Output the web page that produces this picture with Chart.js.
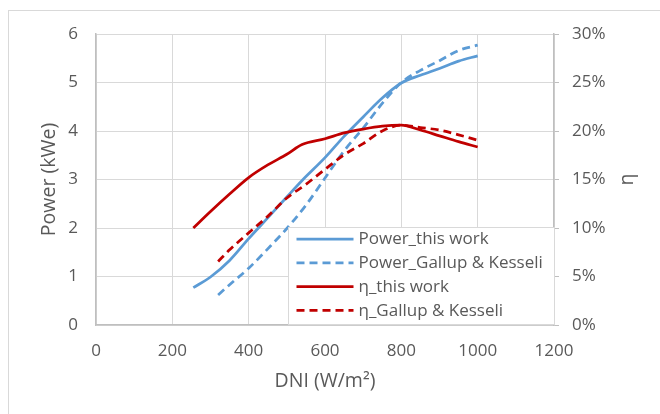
<!DOCTYPE html>
<html>
<head>
<meta charset="utf-8">
<script src="https://cdn.jsdelivr.net/npm/chart.js@4.4.0/dist/chart.umd.min.js"></script>
<style>
  html, body { margin: 0; padding: 0; background: #ffffff; }
  #wrap { width: 660px; height: 414px; position: relative; }
</style>
</head>
<body>
<div id="wrap"><canvas id="c" width="660" height="414"></canvas></div>
<script>
// ---- data ----
const xTicks = [0, 200, 400, 600, 800, 1000, 1200];
const powerTicks = [0, 1, 2, 3, 4, 5, 6];
const etaTicks = [0, 5, 10, 15, 20, 25, 30];

const seriesNames = ["Power_this work", "Power_Gallup & Kesseli", "η_this work", "η_Gallup & Kesseli"];
const xTitle = "DNI (W/m²)";
const yTitle = "Power (kWe)";
const y2Title = "η";

const dniThisWork = [255, 300, 350, 400, 450, 500, 540, 600, 650, 700, 750, 800, 850, 900, 950, 1000];
const powerThisWork = [0.77, 0.99, 1.33, 1.78, 2.21, 2.64, 2.98, 3.45, 3.89, 4.29, 4.68, 4.99, 5.15, 5.29, 5.44, 5.55];
const etaThisWork = [10.0, 11.7, 13.5, 15.2, 16.5, 17.6, 18.6, 19.2, 19.8, 20.2, 20.5, 20.6, 20.1, 19.5, 18.9, 18.35];

const dniGallup = [320, 350, 400, 450, 500, 550, 600, 650, 700, 750, 800, 850, 900, 950, 1000];
const powerGallup = [0.62, 0.83, 1.17, 1.57, 1.99, 2.47, 3.03, 3.59, 4.06, 4.57, 5.00, 5.25, 5.45, 5.66, 5.77];
const etaGallup = [6.55, 7.75, 9.5, 11.2, 13.1, 14.5, 16.05, 17.55, 18.7, 20.0, 20.6, 20.35, 20.1, 19.6, 19.05];

// ---- helpers ----
const pts = (xs, ys) => xs.map((x, i) => ({ x: x, y: ys[i] }));
const BLUE = "#5B9BD5";
const RED = "#C00000";
const TXT = "#595959";
const GRID = "#d9d9d9";
const AXIS = "#bfbfbf";
const FONT = "'Open Sans', sans-serif";

const outerBorder = {
  id: "outerBorder",
  beforeDraw(chart) {
    const ctx = chart.ctx;
    ctx.save();
    ctx.fillStyle = "#ffffff";
    ctx.fillRect(0, 0, chart.width, chart.height);
    ctx.strokeStyle = GRID;
    ctx.lineWidth = 1;
    ctx.strokeRect(8.5, 10.5, 720, 520);
    ctx.restore();
  }
};

// right-axis title, drawn reading bottom-to-top like the reference
const rightTitle = {
  id: "rightTitle",
  afterDraw(chart) {
    const ctx = chart.ctx;
    const ca = chart.chartArea;
    ctx.save();
    ctx.translate(chart.scales.y2.right - 33, (ca.top + ca.bottom) / 2);
    ctx.rotate(-Math.PI / 2);
    ctx.fillStyle = TXT;
    ctx.font = "19.5px " + FONT;
    ctx.textAlign = "center";
    ctx.textBaseline = "middle";
    ctx.fillText(y2Title, 0, 0);
    ctx.restore();
  }
};

const boxLegend = {
  id: "boxLegend",
  afterDatasetsDraw(chart) {
    const ctx = chart.ctx;
    const ca = chart.chartArea;
    const w = 266, h = 97;
    const x0 = Math.round(ca.right - w) + 0.5;
    const y0 = Math.round(ca.bottom - h) - 0.5;
    ctx.save();
    ctx.fillStyle = "#ffffff";
    ctx.fillRect(x0, y0, w, h);
    ctx.strokeStyle = GRID;
    ctx.lineWidth = 1;
    ctx.strokeRect(x0, y0, w, h);
    chart.data.datasets.forEach((ds, i) => {
      const y = y0 + 11.5 + i * 23.8;
      ctx.beginPath();
      ctx.strokeStyle = ds.borderColor;
      ctx.lineWidth = ds.borderWidth;
      ctx.setLineDash(ds.borderDash || []);
      ctx.moveTo(x0 + 8, y);
      ctx.lineTo(x0 + 65, y);
      ctx.stroke();
      ctx.setLineDash([]);
      ctx.fillStyle = TXT;
      ctx.font = "17px " + FONT;
      ctx.textBaseline = "middle";
      ctx.textAlign = "left";
      ctx.fillText(ds.label, x0 + 70, y + 0.5);
    });
    ctx.restore();
  }
};

const tickFont = { family: FONT, size: 17 };
const titleFont = { family: FONT, size: 19.5 };

new Chart(document.getElementById("c"), {
  type: "line",
  data: {
    datasets: [
      { label: seriesNames[0], data: pts(dniThisWork, powerThisWork), yAxisID: "y", borderColor: BLUE, borderWidth: 2.75, order: 4 },
      { label: seriesNames[1], data: pts(dniGallup, powerGallup), yAxisID: "y", borderColor: BLUE, borderWidth: 2.75, borderDash: [8, 5], order: 3 },
      { label: seriesNames[2], data: pts(dniThisWork, etaThisWork), yAxisID: "y2", borderColor: RED, borderWidth: 2.75, order: 2 },
      { label: seriesNames[3], data: pts(dniGallup, etaGallup), yAxisID: "y2", borderColor: RED, borderWidth: 2.75, borderDash: [8, 5], order: 1 }
    ]
  },
  options: {
    responsive: false,
    animation: false,
    devicePixelRatio: 1,
    layout: { padding: { left: 0, right: 0, top: 34, bottom: 0 } },
    elements: {
      point: { radius: 0 },
      line: { cubicInterpolationMode: "monotone", borderCapStyle: "butt", fill: false }
    },
    plugins: {
      legend: { display: false },
      tooltip: { enabled: false }
    },
    scales: {
      x: {
        type: "linear",
        min: xTicks[0], max: xTicks[xTicks.length - 1],
        afterBuildTicks: s => { s.ticks = xTicks.map(v => ({ value: v })); },
        afterFit: s => { s.height = 89; },
        grid: { color: GRID, lineWidth: 1, drawTicks: false },
        border: { color: AXIS, width: 1.5 },
        ticks: { color: TXT, font: tickFont, padding: 16, maxRotation: 0, callback: v => String(v) },
        title: { display: true, text: xTitle, color: TXT, font: titleFont, padding: { top: 0, bottom: 21 } }
      },
      y: {
        position: "left",
        min: powerTicks[0], max: powerTicks[powerTicks.length - 1],
        afterBuildTicks: s => { s.ticks = powerTicks.map(v => ({ value: v })); },
        afterFit: s => { s.width = 96; },
        grid: { color: GRID, lineWidth: 1, drawTicks: false },
        border: { color: AXIS, width: 1.5 },
        ticks: { color: TXT, font: tickFont, padding: 18, callback: v => String(v) },
        title: { display: true, text: yTitle, color: TXT, font: titleFont, padding: { top: 38, bottom: 0 } }
      },
      y2: {
        position: "right",
        min: etaTicks[0], max: etaTicks[etaTicks.length - 1],
        afterBuildTicks: s => { s.ticks = etaTicks.map(v => ({ value: v })); },
        afterFit: s => { s.width = 106; },
        grid: { drawOnChartArea: false, color: AXIS, tickLength: 5, drawTicks: true },
        border: { color: AXIS, width: 1.5 },
        ticks: { color: TXT, font: tickFont, padding: 13, callback: v => v + "%" },
        title: { display: false }
      }
    }
  },
  plugins: [outerBorder, boxLegend, rightTitle]
});
</script>
</body>
</html>
